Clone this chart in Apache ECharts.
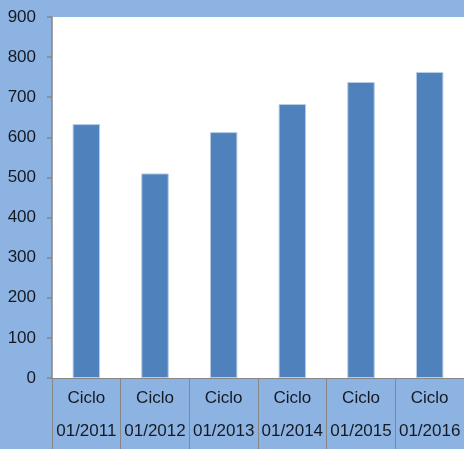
<!DOCTYPE html>
<html><head><meta charset="utf-8">
<script src="https://cdn.jsdelivr.net/npm/echarts@6/dist/echarts.min.js"></script>
<style>html,body{margin:0;padding:0;background:#8db3e2;overflow:hidden;}#c{width:464px;height:449px;}</style>
</head><body><div id="c"></div>
<script>
const categories = ['Ciclo\n01/2011','Ciclo\n01/2012','Ciclo\n01/2013','Ciclo\n01/2014','Ciclo\n01/2015','Ciclo\n01/2016'];
const values = [633, 510, 613, 683, 738, 763];
const yMin = 0, yMax = 900, yStep = 100;

const chart = echarts.init(document.getElementById('c'));
const font = '"Liberation Sans", Arial, sans-serif';
chart.setOption({
  animation: false,
  backgroundColor: '#8db3e2',
  grid: {left: 52, top: 17, height: 361, width: 418, show: true, backgroundColor: '#ffffff', borderWidth: 0},
  xAxis: {
    type: 'category', data: categories, boundaryGap: true,
    axisLine: {lineStyle: {color: '#868686', width: 1}},
    axisTick: {show: true, length: 71, alignWithLabel: false, lineStyle: {color: '#868686', width: 1}},
    axisLabel: {color: '#151a22', fontFamily: font, fontSize: 17, lineHeight: 33, margin: 4, interval: 0}
  },
  yAxis: {
    type: 'value', min: yMin, max: yMax, interval: yStep,
    splitLine: {show: false},
    axisLine: {show: true, lineStyle: {color: '#868686', width: 1.5}},
    axisTick: {show: true, length: 5, lineStyle: {color: '#868686', width: 1.5}},
    axisLabel: {color: '#151a22', fontFamily: font, fontSize: 17, margin: 16}
  },
  series: [{
    type: 'bar', data: values, barWidth: '40%',
    itemStyle: {color: '#4f81bd', borderColor: '#b9cde5', borderWidth: 1}
  }]
});
</script></body></html>
